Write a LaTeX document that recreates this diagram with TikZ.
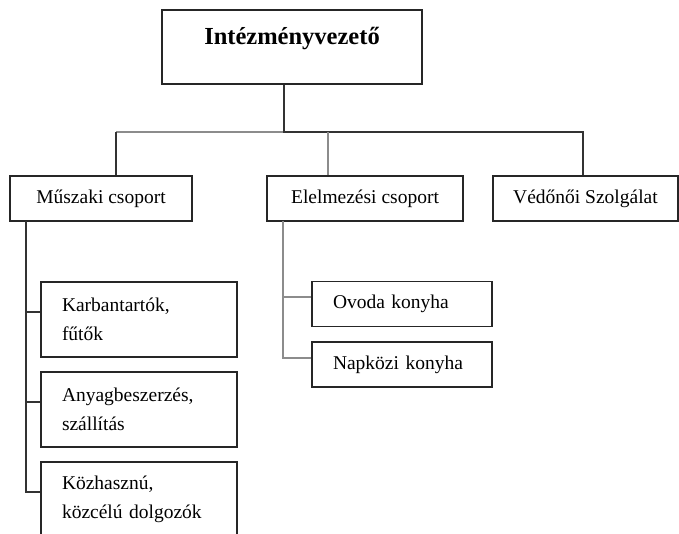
\documentclass[tikz,border=0pt]{standalone}
\usepackage{fontspec}
\setmainfont{Liberation Serif}

\begin{document}
\begin{tikzpicture}[x=1pt,y=-1pt,
    unit/.style={draw=black!85,line width=1.4pt,fill=white,inner sep=0pt,
      font=\fontsize{19.5}{29}\selectfont},
    headbox/.style={unit,font=\fontsize{24.5}{29}\selectfont\bfseries,
      minimum width=260pt,text height=34pt,text depth=40pt},
    groupbox/.style={unit,minimum height=45pt,align=center},
    staffbox/.style={unit,inner xsep=21pt,text width=154pt,minimum height=75pt,align=left},
    kitchenbox/.style={unit,inner xsep=21pt,text width=138pt,minimum height=45pt,align=left},
    darkline/.style={draw=black!80,line width=2pt},
    greyline/.style={draw=black!45,line width=2pt}]
        \useasboundingbox (0,0) rectangle (679,533);

        \node[headbox] (head) at (292,47) {Intézményvezető};

        \node[groupbox,minimum width=182pt] (tech) at (101,198.5) {Műszaki csoport};
        \node[groupbox,minimum width=196pt] (food) at (365,198.5) {Elelmezési csoport};
        \node[groupbox,minimum width=185pt] (nurse) at (585.5,198.5) {Védőnői Szolgálat};

        \node[staffbox] (repair) at (139,319.5) {Karbantartók,\\fűtők};
        \node[staffbox] (supply) at (139,409.5) {Anyagbeszerzés,\\szállítás};
        \node[staffbox] (public) at (139,499.5) {Közhasznú,\\közcélú dolgozók};

        \node[kitchenbox] (kinder) at (402,304) {Ovoda konyha};
        \node[kitchenbox] (school) at (402,364.5) {Napközi konyha};

        % bus under the head
        \coordinate (bus) at (284,132);
        \coordinate (busleft) at (116,132);
        \coordinate (busfood) at (328,132);
        \coordinate (busright) at (583,132);
        \draw[greyline] (busleft) -- (bus);
        \draw[darkline] (head.south -| bus) -- (bus) -- (busright) -- (busright |- nurse.north);
        \draw[darkline] (busleft) -- (busleft |- tech.north);
        \draw[greyline] (busfood) -- (busfood |- food.north);

        % subgroups
        \coordinate (techspine) at (26,221);
        \coordinate (foodspine) at (283,221);
        \foreach \n in {repair,supply,public} {
          \draw[darkline] (techspine) |- ([yshift=7.5pt]\n.west);
        }
        \foreach \n in {kinder,school} {
          \draw[greyline] (foodspine) |- ([yshift=7pt]\n.west);
        }
      \end{tikzpicture}
\end{document}
